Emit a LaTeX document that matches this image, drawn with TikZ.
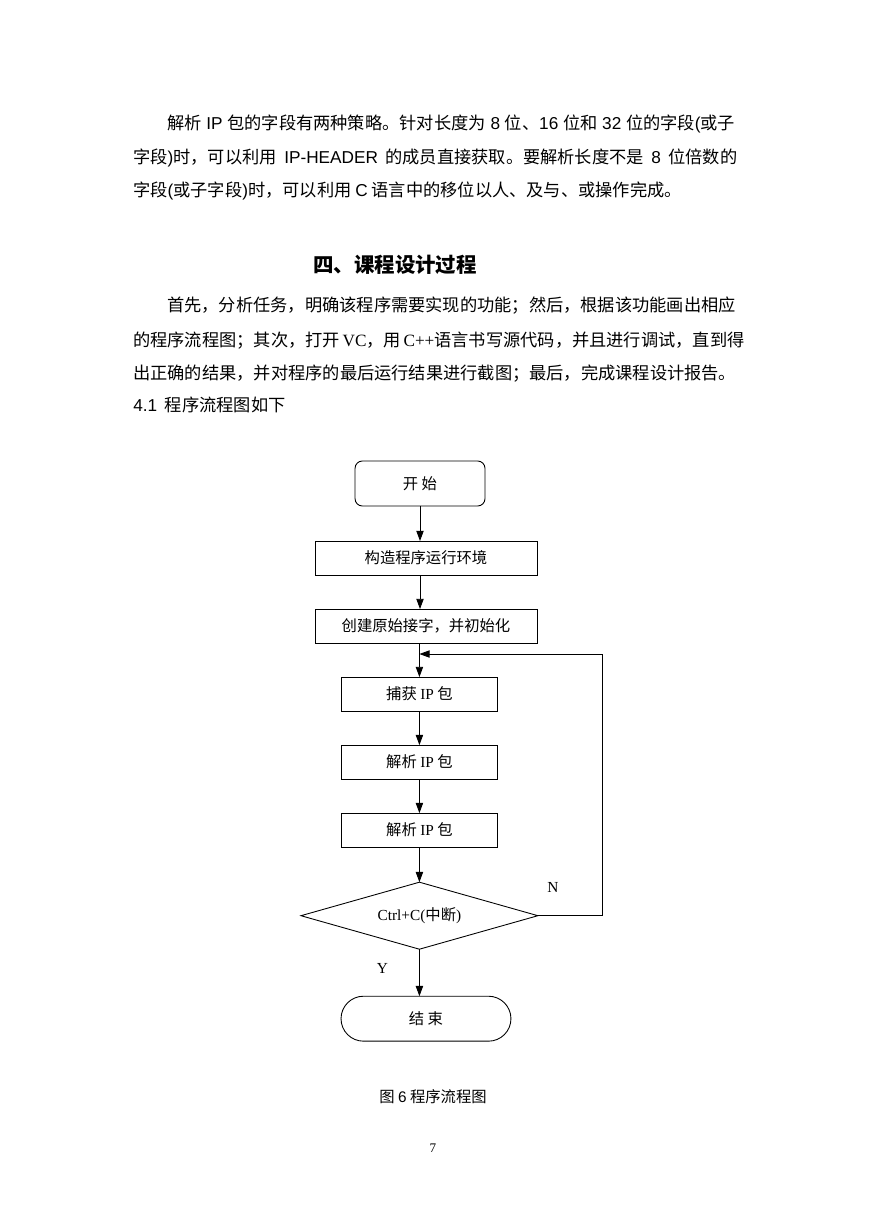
\documentclass[tikz,border=0pt]{standalone}
\usepackage{fontspec}
\setmainfont{Noto Sans CJK SC}
\newfontfamily\ensans{Liberation Sans}
\newfontfamily\enserif{Liberation Serif}
\usetikzlibrary{positioning,shapes.geometric,arrows.meta}
\XeTeXlinebreaklocale "zh"
\XeTeXlinebreakskip=0pt plus 2pt

\begin{document}
\begin{tikzpicture}[x=0.685pt, y=-0.685pt, >={Triangle[length=7pt,width=5pt]},
    node distance=23.3pt,
    base box/.style={draw, line width=0.6pt, inner sep=0pt, outer sep=0pt, minimum height=23.3pt},
    wide box/.style={base box, minimum width=152pt},
    narrow box/.style={base box, minimum width=107.5pt},
    start box/.style={base box, rounded corners=5pt, minimum width=89pt, minimum height=30.8pt},
    stop box/.style={base box, rounded corners=15.4pt, minimum width=116.4pt, minimum height=30.8pt},
    test box/.style={diamond, draw, line width=0.6pt, inner sep=0pt, outer sep=0pt, aspect=3.5, minimum width=162.3pt, minimum height=45.9pt},
    flow/.style={->, line width=0.6pt},
    text line/.style={anchor=base west, inner sep=0pt, font=\fontsize{11.8pt}{14pt}\selectfont}]
        \tikzstyle{every node}=[font=\fontsize{10.5pt}{12pt}\selectfont]

          \fill[white] (0,0) rectangle (869,1228);
          \useasboundingbox (0,0) rectangle (869,1228);

          % text above the chart
          \node[text line] (p1a) at (167,129.5) {\makebox[389pt][s]{解析 {\ensans IP} 包的字段有两种策略。针对长度为 {\ensans 8} 位、{\ensans 16} 位和 {\ensans 32} 位的字段{\ensans(}或子}};
          \node[text line] (p1b) at (133,163.5) {\makebox[413.7pt][s]{字段{\ensans)}时，可以利用 {\ensans IP-HEADER} 的成员直接获取。要解析长度不是 {\ensans 8} 位倍数的}};
          \node[text line] (p1c) at (133,196.5) {字段{\ensans(}或子字段{\ensans)}时，可以利用 {\ensans C} 语言中的移位以人、及与、或操作完成。};
          \node[font=\fontsize{14pt}{16pt}\selectfont\bfseries] (title) at (395,265) {四、课程设计过程};
          \node[text line] (p2a) at (167,311.5) {\makebox[389pt][s]{首先，分析任务，明确该程序需要实现的功能；然后，根据该功能画出相应}};
          \node[text line] (p2b) at (133,346.5) {\makebox[413.7pt][s]{的程序流程图；其次，打开 {\enserif VC}，用 {\enserif C++}语言书写源代码，并且进行调试，直到得}};
          \node[text line] (p2c) at (133,379.5) {\makebox[413.7pt][s]{出正确的结果，并对程序的最后运行结果进行截图；最后，完成课程设计报告。}};
          \node[text line] (p2d) at (133,411.5) {{\ensans 4.1}\ \ 程序流程图如下};

          % flow chart
          \node[start box] (start) at (420,483.5) {开 始};
          \node[wide box] (env) [below=24pt of start, xshift=4.1pt] {构造程序运行环境};
          \node[wide box] (init) [below=of env] {创建原始接字，并初始化};
          \node[narrow box] (cap) [below=of init, xshift=-4.5pt] {捕获 {\enserif IP} 包};
          \node[narrow box] (parse1) [below=of cap] {解析 {\enserif IP} 包};
          \node[narrow box] (parse2) [below=of parse1] {解析 {\enserif IP} 包};
          \node[test box] (stopq) [below=24pt of parse2] {{\enserif Ctrl+C(}中断{\enserif )}};
          \node[stop box] (stop) [below=32.2pt of stopq, xshift=4.5pt] {结 束};
          \coordinate (back) at ([yshift=-7.5pt]cap |- init.south);

          \draw[flow] (start) -- (start |- env.north);
          \draw[flow] (start |- env.south) -- (start |- init.north);
          \draw[flow] (cap |- init.south) -- (cap);
          \path[flow]
            (cap) edge (parse1)
            (parse1) edge (parse2)
            (parse2) edge (stopq);
          \draw[flow] (stopq) -- node[pos=0.4, left=18pt] {\enserif Y} (stopq |- stop.north);
          \draw[flow] (stopq.east) -- node[pos=0.23, above=12pt] {\enserif N} ++(44.5pt,0) |- (back);

          \node (caption) at (433,1097) {图 {\ensans 6} 程序流程图};
          \node[font=\enserif\fontsize{9pt}{10pt}\selectfont] (page) at (433,1148) {7};

        \end{tikzpicture}
\end{document}
